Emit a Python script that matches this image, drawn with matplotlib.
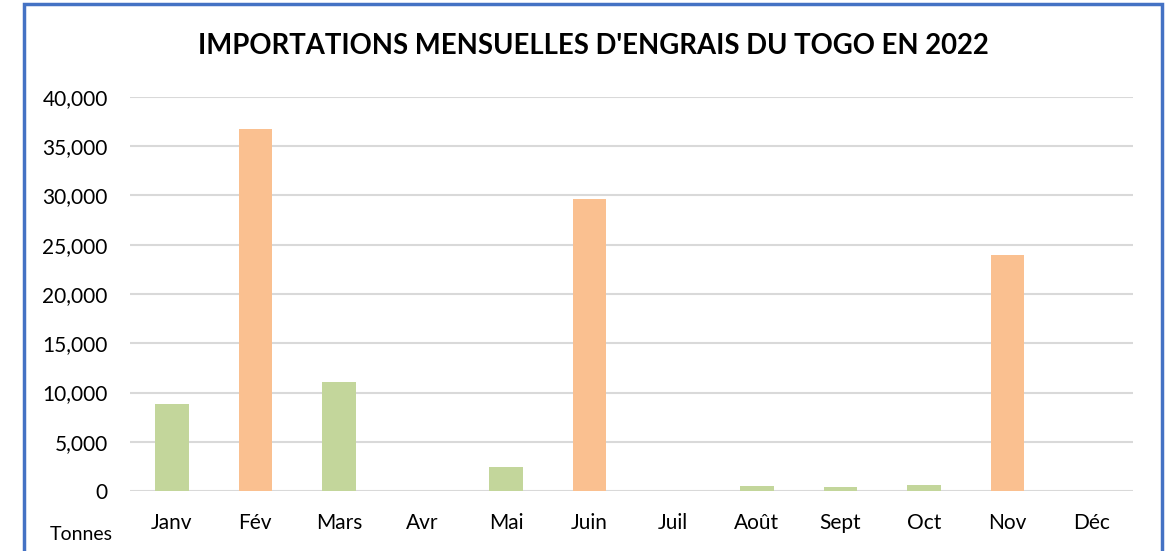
import matplotlib.pyplot as plt
from matplotlib.patches import Rectangle

# Monthly fertilizer imports, Togo 2022 (tonnes)
mois = ['Janv', 'Fév', 'Mars', 'Avr', 'Mai', 'Juin', 'Juil', 'Août', 'Sept', 'Oct', 'Nov', 'Déc']
tonnes = [8800, 36750, 11050, 0, 2400, 29650, 0, 500, 380, 600, 23950, 0]
couleurs = ['#C3D69B', '#FAC090', '#C3D69B', '#C3D69B', '#C3D69B', '#FAC090',
            '#C3D69B', '#C3D69B', '#C3D69B', '#C3D69B', '#FAC090', '#C3D69B']
yticks = [0, 5000, 10000, 15000, 20000, 25000, 30000, 35000, 40000]

plt.rcParams['font.family'] = ['Lato', 'DejaVu Sans']

fig = plt.figure(figsize=(11.67, 5.51), dpi=100)
ax = fig.add_axes([130 / 1167, 1 - 491 / 551, (1133 - 130) / 1167, (491 - 97) / 551])

x = range(len(mois))
ax.bar(x, tonnes, width=0.4, color=couleurs, zorder=3)

ax.set_xlim(-0.5, len(mois) - 0.5)
ax.set_ylim(0, 40000)
ax.set_yticks(yticks)
ax.set_yticklabels([f'{v:,}' for v in yticks])
ax.set_xticks(list(x))
ax.set_xticklabels(mois)
ax.tick_params(axis='both', length=0, labelsize=15, colors='black')
ax.tick_params(axis='y', pad=16)
ax.tick_params(axis='x', pad=16)
ax.grid(axis='y', color='#D9D9D9', linewidth=1.5, zorder=0)
for s in ax.spines.values():
    s.set_visible(False)

fig.text(593 / 1167, 1 - 46 / 551, "IMPORTATIONS MENSUELLES D'ENGRAIS DU TOGO EN 2022",
         ha='center', va='center', fontsize=19.8, fontweight='bold')
fig.text(113 / 1167, 1 - 534 / 551, 'Tonnes', ha='right', va='center', fontsize=14)

# blue chart border (bottom edge cut off in the original)
fig.patches.append(Rectangle((24 / 1167, -0.05), (1162 - 24) / 1167, 1.05 - 4 / 551,
                             transform=fig.transFigure, fill=False,
                             edgecolor='#4472C4', linewidth=2.5))

fig.savefig('out.png', dpi=100)
